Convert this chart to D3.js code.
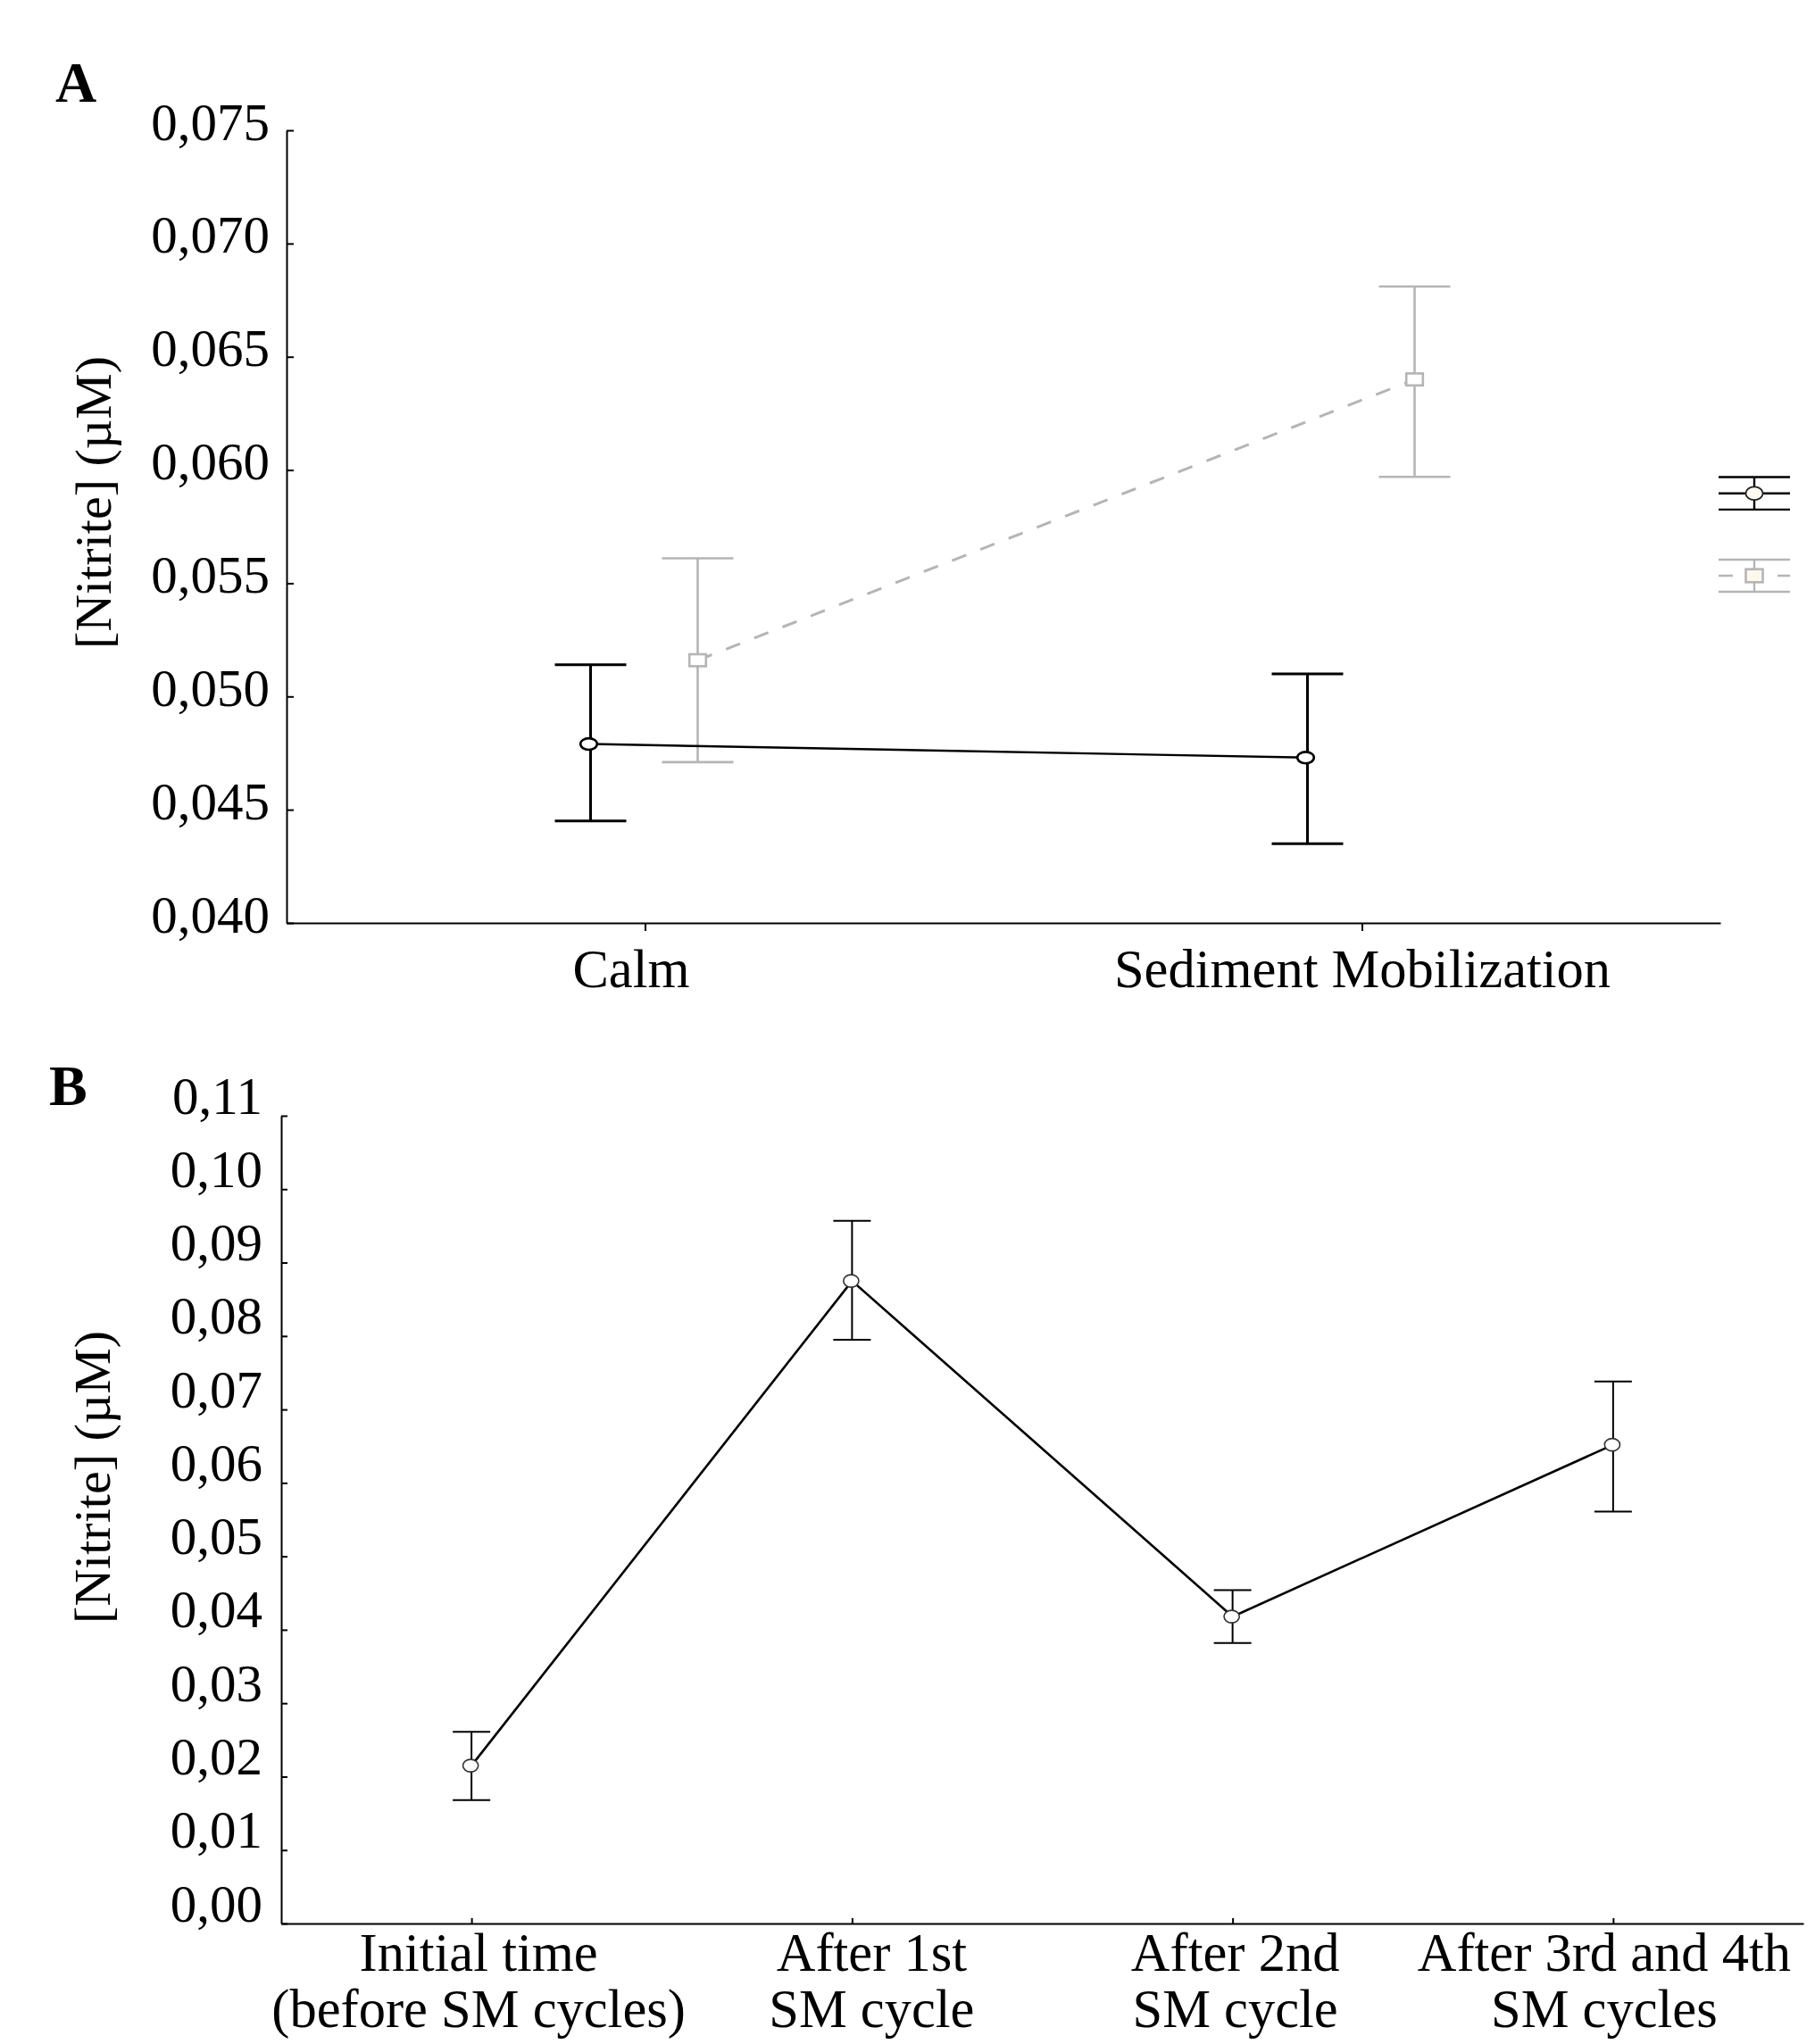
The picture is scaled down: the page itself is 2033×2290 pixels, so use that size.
<!DOCTYPE html>
<html>
<head>
<meta charset="utf-8">
<script src="https://cdn.jsdelivr.net/npm/d3@7"></script>
<style>
  body { margin: 0; background: #fff; }
</style>
</head>
<body>
<div id="chart"></div>
<script>
// ---------- data, panel A ----------
const conditionsA = ["Calm", "Sediment Mobilization"];
const ticksA = [0.040, 0.045, 0.050, 0.055, 0.060, 0.065, 0.070, 0.075];

// circle series (solid black)
const meanCircleA = [0.0479, 0.0473];
const lowCircleA = [0.0445, 0.0435];
const highCircleA = [0.0514, 0.0510];

// square series (dashed grey)
const meanSquareA = [0.0516, 0.0640];
const lowSquareA = [0.0471, 0.0597];
const highSquareA = [0.0561, 0.0681];

// ---------- data, panel B ----------
const stagesB = ["Initial time", "After 1st", "After 2nd", "After 3rd and 4th"];
const stageLabelsB = [
    ["Initial time", "(before SM cycles)"],
    ["After 1st", "SM cycle"],
    ["After 2nd", "SM cycle"],
    ["After 3rd and 4th", "SM cycles"]
];
const ticksB = [0.00, 0.01, 0.02, 0.03, 0.04, 0.05, 0.06, 0.07, 0.08, 0.09, 0.10, 0.11];
const meanB = [0.0215, 0.0875, 0.0418, 0.0652];
const lowB = [0.0168, 0.0795, 0.0382, 0.0561];
const highB = [0.0261, 0.0957, 0.0454, 0.0738];

const FONT = "'Liberation Serif', 'Times New Roman', serif";
const GREY = "#b5b5b5";

// decimal comma for the tick labels
const locale = d3.formatLocale({decimal: ",", thousands: ".", grouping: [3], currency: ["", ""]});

const svg = d3.select("#chart")
    .append("svg")
    .attr("width", 2033)
    .attr("height", 2290)
    .style("font-family", FONT);

// =====================================================================
// Panel A
// =====================================================================
const xA = d3.scalePoint().domain(conditionsA).range([321, 1927]).padding(0.5);
const yA = d3.scaleLinear().domain([0.040, 0.075]).range([1034, 146]);

const seriesA = [
    {name: "circle", mean: meanCircleA, low: lowCircleA, high: highCircleA, color: "#000", dash: null},
    {name: "square", mean: meanSquareA, low: lowSquareA, high: highSquareA, color: GREY, dash: "17,17"}
];
const offA = d3.scalePoint().domain(seriesA.map(d => d.name)).range([-61, 59]);

const gA = svg.append("g");

// y axis
const yAxisA = gA.append("g")
    .attr("transform", "translate(321,0)")
    .call(d3.axisLeft(yA).tickValues(ticksA).tickFormat(locale.format(".3f"))
        .tickSize(-8).tickSizeOuter(0).tickPadding(19));
yAxisA.select(".domain").attr("stroke-width", 2);
yAxisA.selectAll(".tick line").attr("stroke-width", 2);
yAxisA.selectAll(".tick text")
    .attr("font-size", 59).attr("font-family", FONT).attr("fill", "#000")
    .attr("dy", 10);

// x axis (labels nudged a little, as in the original layout)
const labelNudgeA = [-16, 0];
const xAxisA = gA.append("g")
    .attr("transform", "translate(0,1034)")
    .call(d3.axisBottom(xA).tickSize(9).tickSizeOuter(0));
xAxisA.select(".domain").attr("stroke-width", 2);
xAxisA.selectAll(".tick line").attr("stroke-width", 2);
xAxisA.selectAll(".tick text")
    .attr("font-size", 60.5).attr("font-family", FONT).attr("fill", "#000")
    .attr("x", (d, i) => labelNudgeA[i])
    .attr("y", 72).attr("dy", 0);

// y title
gA.append("text")
    .attr("transform", "translate(124,563) rotate(-90)")
    .attr("text-anchor", "middle")
    .attr("font-size", 58)
    .text("[Nitrite] (µM)");

// panel letter
gA.append("text")
    .attr("x", 62).attr("y", 114)
    .attr("font-size", 64).attr("font-weight", "bold")
    .text("A");

// error bars (grey first so black sits on top)
const capA = 40;
seriesA.slice().reverse().forEach(s => {
    const g = gA.append("g").attr("stroke", s.color).attr("stroke-width", s.name === "circle" ? 3 : 2.6);
    conditionsA.forEach((c, i) => {
        const cx = xA(c) + offA(s.name);
        g.append("line").attr("x1", cx).attr("x2", cx).attr("y1", yA(s.low[i])).attr("y2", yA(s.high[i]));
        g.append("line").attr("x1", cx - capA).attr("x2", cx + capA).attr("y1", yA(s.low[i])).attr("y2", yA(s.low[i]));
        g.append("line").attr("x1", cx - capA).attr("x2", cx + capA).attr("y1", yA(s.high[i])).attr("y2", yA(s.high[i]));
    });
});

// lines
const lineA = d3.line().x(d => d.x).y(d => d.y);
seriesA.forEach(s => {
    const pts = conditionsA.map((c, i) => ({x: xA(c) + offA(s.name), y: yA(s.mean[i])}));
    gA.append("path")
        .attr("d", lineA(pts))
        .attr("fill", "none")
        .attr("stroke", s.color)
        .attr("stroke-width", s.name === "circle" ? 2.4 : 3)
        .attr("stroke-dasharray", s.dash);
});

// markers
seriesA.forEach(s => {
    conditionsA.forEach((c, i) => {
        const cx = xA(c) + offA(s.name);
        const cy = yA(s.mean[i]);
        if (s.name === "circle") {
            gA.append("ellipse")
                .attr("cx", cx - 2).attr("cy", cy).attr("rx", 9.3).attr("ry", 6.4)
                .attr("fill", "#fff").attr("stroke", "#000").attr("stroke-width", 2.6);
        } else {
            gA.append("rect")
                .attr("x", cx - 9.3).attr("y", cy - 6.7).attr("width", 18.6).attr("height", 13.4)
                .attr("fill", "#fff").attr("stroke", GREY).attr("stroke-width", 2.6);
        }
    });
});

// legend symbols at the right
const legX = 1965, legHalf = 40;
const legend = [
    {name: "circle", cy: 552.7, half: 18.2},
    {name: "square", cy: 645, half: 18}
];
legend.forEach(l => {
    const s = seriesA.find(d => d.name === l.name);
    const g = gA.append("g").attr("stroke", s.name === "circle" ? "#000" : GREY).attr("stroke-width", 2.4);
    g.append("line").attr("x1", legX).attr("x2", legX).attr("y1", l.cy - l.half).attr("y2", l.cy + l.half);
    [-l.half, l.half].forEach(d => {
        g.append("line").attr("x1", legX - legHalf).attr("x2", legX + legHalf).attr("y1", l.cy + d).attr("y2", l.cy + d);
    });
    g.append("line").attr("x1", legX - legHalf).attr("x2", legX + legHalf).attr("y1", l.cy).attr("y2", l.cy)
        .attr("stroke-dasharray", s.name === "circle" ? null : "16,50");
    if (s.name === "circle") {
        g.append("ellipse").attr("cx", legX).attr("cy", l.cy).attr("rx", 9.6).attr("ry", 7.4)
            .attr("fill", "#fdfbef").attr("stroke", "#222").attr("stroke-width", 1.8);
    } else {
        g.append("rect").attr("x", legX - 9.5).attr("y", l.cy - 7.3).attr("width", 19).attr("height", 14.6)
            .attr("fill", "#fdf8ea").attr("stroke", GREY).attr("stroke-width", 2.6);
    }
});

// =====================================================================
// Panel B
// =====================================================================
const xB = d3.scalePoint().domain(stagesB).range([315, 2020]).padding(0.5);
const yB = d3.scaleLinear().domain([0, 0.11]).range([2155, 1250]);

const gB = svg.append("g");

const yAxisB = gB.append("g")
    .attr("transform", "translate(315,0)")
    .call(d3.axisLeft(yB).tickValues(ticksB).tickFormat(locale.format(".2f"))
        .tickSize(-7).tickSizeOuter(0).tickPadding(21));
yAxisB.select(".domain").attr("stroke-width", 2);
yAxisB.selectAll(".tick line").attr("stroke-width", 2);
yAxisB.selectAll(".tick text")
    .attr("font-size", 59).attr("font-family", FONT).attr("fill", "#000")
    .attr("dy", -3);

const xAxisB = gB.append("g")
    .attr("transform", "translate(0,2155)")
    .call(d3.axisBottom(xB).tickSize(-6).tickSizeOuter(0).tickFormat(""));
xAxisB.select(".domain").attr("stroke-width", 2);
xAxisB.selectAll(".tick line").attr("stroke-width", 2);

// two-line category labels
const labelNudgeB = [8, 22, 3, -10];
gB.append("g")
    .selectAll("text")
    .data(stagesB)
    .enter()
    .append("text")
    .attr("text-anchor", "middle")
    .attr("font-size", 60.5)
    .each(function (d, i) {
        const t = d3.select(this);
        stageLabelsB[i].forEach((line, k) => {
            t.append("tspan").attr("x", xB(d) + labelNudgeB[i]).attr("y", 2208 + k * 63).text(line);
        });
    });

gB.append("text")
    .attr("transform", "translate(123,1655) rotate(-90)")
    .attr("text-anchor", "middle")
    .attr("font-size", 58)
    .text("[Nitrite] (µM)");

gB.append("text")
    .attr("x", 55).attr("y", 1238)
    .attr("font-size", 64).attr("font-weight", "bold")
    .text("B");

// error bars
const capB = 21;
const ebB = gB.append("g").attr("stroke", "#000").attr("stroke-width", 2);
stagesB.forEach((s, i) => {
    const cx = xB(s);
    ebB.append("line").attr("x1", cx).attr("x2", cx).attr("y1", yB(lowB[i])).attr("y2", yB(highB[i]));
    ebB.append("line").attr("x1", cx - capB).attr("x2", cx + capB).attr("y1", yB(lowB[i])).attr("y2", yB(lowB[i]));
    ebB.append("line").attr("x1", cx - capB).attr("x2", cx + capB).attr("y1", yB(highB[i])).attr("y2", yB(highB[i]));
});

// line
gB.append("path")
    .datum(meanB)
    .attr("d", d3.line().x((d, i) => xB(stagesB[i])).y(d => yB(d)))
    .attr("fill", "none")
    .attr("stroke", "#000")
    .attr("stroke-width", 2.6);

// markers
gB.selectAll("ellipse.pt")
    .data(meanB)
    .enter()
    .append("ellipse")
    .attr("class", "pt")
    .attr("cx", (d, i) => xB(stagesB[i]) - 1)
    .attr("cy", d => yB(d))
    .attr("rx", 8.6)
    .attr("ry", 7)
    .attr("fill", "#fff")
    .attr("stroke", "#333")
    .attr("stroke-width", 1.6);
</script>
</body>
</html>
